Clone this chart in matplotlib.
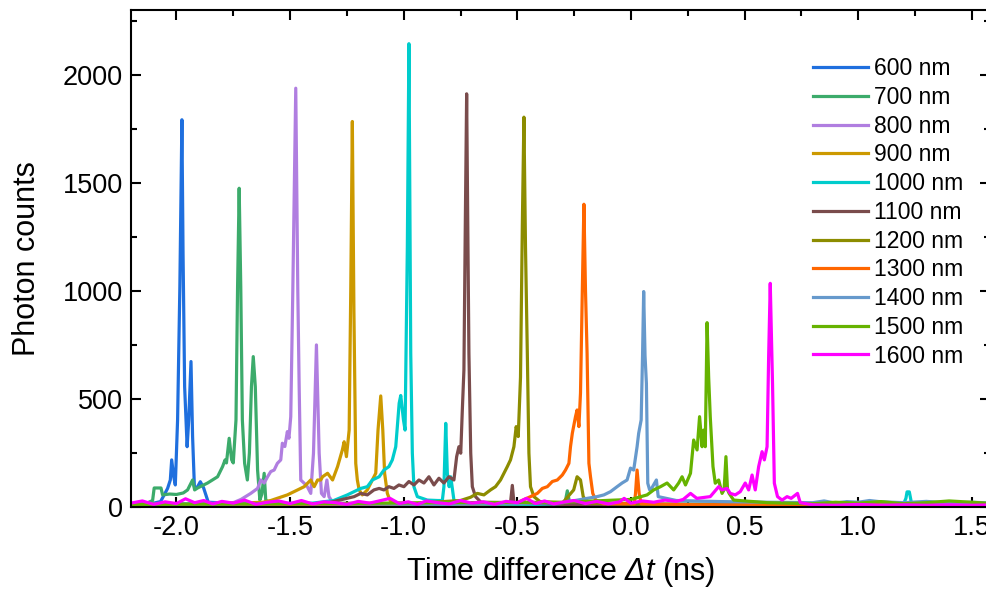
import matplotlib.pyplot as plt
from matplotlib.ticker import MultipleLocator

plt.rcParams['font.family'] = ['Liberation Sans', 'DejaVu Sans']
plt.rcParams['mathtext.fontset'] = 'custom'
plt.rcParams['mathtext.rm'] = 'Liberation Sans:italic'
plt.rcParams['mathtext.it'] = 'Liberation Sans:italic'
plt.rcParams['axes.unicode_minus'] = False

labels = ["600 nm", "700 nm", "800 nm", "900 nm", "1000 nm", "1100 nm",
          "1200 nm", "1300 nm", "1400 nm", "1500 nm", "1600 nm"]
colors = ["#1f6fde", "#3cab6b", "#b07ee0", "#cc9900", "#00cccc", "#7a4c4c",
          "#8c8c00", "#ff6600", "#6699cc", "#66b300", "#ff00ff"]

# time difference (ns) / photon counts
t_600 = [-2.20, -2.15, -2.10, -2.07, -2.054, -2.039, -2.027, -2.021, -2.012, -2.005,
         -1.995, -1.985, -1.976, -1.971, -1.964, -1.953, -1.946, -1.936, -1.929, -1.921,
         -1.909, -1.895, -1.881, -1.86, -1.7, -1.5, -1.2, -0.9, -0.6, -0.3,
         0.0, 0.3, 0.6, 0.9, 1.2, 1.6]
c_600 = [15, 20, 18, 25, 56, 86, 125, 218, 140, 102,
         403, 1020, 1792, 1176, 557, 279, 403, 673, 326, 94,
         90, 117, 90, 22, 15, 12, 14, 10, 12, 10,
         12, 10, 12, 10, 12, 10]

t_700 = [-2.20, -2.13, -2.105, -2.098, -2.068, -2.061, -2.03, -2.0, -1.97, -1.951,
         -1.929, -1.92, -1.907, -1.863, -1.819, -1.797, -1.786, -1.780, -1.768, -1.757,
         -1.750, -1.738, -1.731, -1.724, -1.717, -1.710, -1.700, -1.688, -1.679, -1.670,
         -1.662, -1.653, -1.643, -1.633, -1.624, -1.614, -1.607, -1.58, -1.3, -1.0,
         -0.7, -0.4, -0.29, -0.28, -0.27, -0.1, 0.2, 0.5, 0.8, 1.1, 1.4, 1.6]
c_700 = [15, 18, 30, 88, 88, 56, 60, 58, 65, 79,
         125, 79, 88, 111, 140, 187, 218, 204, 318, 218,
         204, 403, 1020, 1475, 1020, 403, 202, 125, 250, 557,
         696, 557, 171, 32, 60, 156, 32, 15, 12, 14,
         12, 14, 20, 75, 20, 12, 14, 12, 10, 12, 10, 12]

t_800 = [-2.20, -1.9, -1.75, -1.716, -1.673, -1.643, -1.629, -1.614, -1.599, -1.585,
         -1.570, -1.556, -1.541, -1.534, -1.523, -1.512, -1.505, -1.497, -1.488, -1.475,
         -1.466, -1.460, -1.453, -1.438, -1.424, -1.409, -1.397, -1.384, -1.372, -1.362,
         -1.350, -1.338, -1.329, -1.31, -1.0, -0.7, -0.4, -0.1, 0.2, 0.5,
         0.8, 1.1, 1.4, 1.6]
c_800 = [12, 15, 20, 35, 63, 86, 125, 111, 140, 164,
         171, 202, 218, 295, 280, 349, 318, 418, 1000, 1938,
         1000, 557, 125, 110, 94, 63, 249, 750, 249, 63,
         48, 125, 48, 18, 12, 14, 12, 10, 12, 10,
         12, 10, 12, 10]

t_900 = [-2.20, -1.8, -1.62, -1.585, -1.512, -1.467, -1.438, -1.409, -1.394, -1.379,
         -1.365, -1.357, -1.335, -1.313, -1.291, -1.270, -1.262, -1.252, -1.240, -1.233,
         -1.226, -1.219, -1.211, -1.204, -1.196, -1.182, -1.160, -1.138, -1.123, -1.113,
         -1.101, -1.092, -1.084, -1.072, -1.060, -1.04, -0.7, -0.4, -0.1, 0.2,
         0.5, 0.8, 1.1, 1.4, 1.6]
c_900 = [12, 15, 22, 30, 56, 79, 94, 125, 94, 125,
         125, 140, 156, 125, 187, 264, 302, 233, 356, 1000,
         1784, 900, 202, 125, 79, 56, 79, 125, 156, 356,
         514, 356, 156, 63, 30, 18, 12, 10, 12, 10,
         12, 10, 12, 10, 12]

t_1000 = [-2.20, -1.7, -1.4, -1.308, -1.248, -1.189, -1.160, -1.138, -1.108, -1.087,
          -1.065, -1.050, -1.035, -1.028, -1.020, -1.013, -1.006, -1.001, -0.994, -0.984,
          -0.977, -0.969, -0.962, -0.955, -0.940, -0.896, -0.85, -0.830, -0.823, -0.815,
          -0.808, -0.800, -0.793, -0.779, -0.75, -0.4, 0.0, 0.5, 1.0, 1.20,
          1.21, 1.215, 1.225, 1.235, 1.3, 1.6]
c_1000 = [12, 15, 18, 30, 56, 86, 94, 125, 140, 171,
          187, 218, 279, 372, 480, 516, 450, 403, 356, 1200,
          2144, 711, 249, 94, 48, 32, 30, 30, 94, 387,
          156, 94, 140, 32, 15, 12, 10, 12, 10, 15,
          40, 70, 70, 15, 10, 10]

t_1100 = [-2.20, -1.7, -1.35, -1.218, -1.189, -1.160, -1.131, -1.108, -1.087, -1.065,
          -1.043, -1.021, -0.999, -0.977, -0.955, -0.933, -0.911, -0.889, -0.867, -0.845,
          -0.823, -0.801, -0.779, -0.767, -0.757, -0.749, -0.742, -0.735, -0.729, -0.723,
          -0.718, -0.713, -0.705, -0.698, -0.684, -0.66, -0.53, -0.522, -0.515, -0.3,
          0.0, 0.4, 0.8, 1.2, 1.6]
c_1100 = [10, 12, 15, 48, 63, 56, 79, 86, 79, 94,
          86, 102, 94, 118, 102, 125, 111, 140, 102, 133,
          111, 140, 125, 233, 279, 249, 449, 634, 1300, 1912,
          1300, 711, 249, 94, 48, 22, 20, 100, 20, 12,
          10, 12, 10, 12, 10]

t_1200 = [-2.20, -1.6, -1.0, -0.75, -0.706, -0.676, -0.647, -0.618, -0.596, -0.574,
          -0.559, -0.544, -0.530, -0.515, -0.505, -0.496, -0.486, -0.478, -0.471, -0.464,
          -0.456, -0.449, -0.442, -0.427, -0.40, -0.30, -0.252, -0.237, -0.222, -0.210,
          -0.19, 0.1, 0.5, 0.9, 1.3, 1.6]
c_1200 = [10, 12, 14, 30, 45, 63, 56, 79, 94, 125,
          156, 187, 218, 279, 372, 326, 600, 1300, 1804, 1200,
          711, 249, 94, 48, 25, 20, 79, 140, 125, 48,
          18, 12, 10, 12, 10, 10]

t_1300 = [-2.20, -1.5, -0.8, -0.5, -0.442, -0.412, -0.390, -0.368, -0.346, -0.324,
          -0.302, -0.288, -0.273, -0.266, -0.258, -0.244, -0.237, -0.229, -0.222, -0.214,
          -0.207, -0.200, -0.193, -0.185, -0.178, -0.168, -0.155, -0.12, 0.015, 0.020,
          0.027, 0.036, 0.045, 0.3, 0.7, 1.1, 1.6]
c_1300 = [10, 12, 12, 20, 48, 63, 86, 94, 118, 125,
          148, 171, 202, 279, 341, 418, 449, 372, 528, 1000,
          1401, 1000, 711, 202, 140, 63, 32, 15, 15, 63,
          171, 63, 15, 10, 12, 10, 10]

t_1400 = [-2.20, -1.5, -0.8, -0.3, -0.149, -0.119, -0.090, -0.061, -0.039, -0.017,
          -0.002, 0.012, 0.027, 0.034, 0.045, 0.051, 0.056, 0.062, 0.068, 0.074,
          0.082, 0.093, 0.112, 0.120, 0.2, 0.4, 0.6, 0.8, 0.85, 0.9,
          0.95, 1.0, 1.05, 1.1, 1.2, 1.3, 1.4, 1.5, 1.6]
c_1400 = [12, 15, 12, 20, 48, 56, 71, 94, 111, 125,
          180, 171, 279, 341, 403, 700, 997, 700, 572, 110,
          80, 90, 125, 48, 30, 25, 22, 20, 28, 18,
          25, 22, 30, 24, 20, 26, 18, 22, 18]

t_1500 = [-2.20, -1.5, -0.8, -0.3, 0.0, 0.071, 0.100, 0.130, 0.159, 0.188,
          0.210, 0.225, 0.240, 0.262, 0.276, 0.291, 0.302, 0.313, 0.320, 0.327,
          0.335, 0.342, 0.349, 0.361, 0.371, 0.386, 0.401, 0.410, 0.418, 0.425,
          0.432, 0.452, 0.6, 0.8, 0.9, 1.0, 1.1, 1.2, 1.3, 1.4,
          1.5, 1.6]
c_1500 = [12, 15, 20, 22, 35, 56, 79, 94, 111, 79,
          111, 140, 102, 156, 310, 264, 418, 279, 356, 279,
          853, 600, 418, 187, 110, 125, 63, 80, 233, 80,
          63, 32, 20, 15, 22, 18, 25, 15, 20, 28,
          22, 15]

t_1600 = [-2.20, -2.15, -2.10, -2.05, -2.00, -1.96, -1.92, -1.88, -1.84, -1.80,
          -1.75, -1.70, -1.65, -1.60, -1.55, -1.50, -1.45, -1.40, -1.35, -1.30,
          -1.25, -1.20, -1.15, -1.10, -1.06, -1.02, -0.98, -0.94, -0.90, -0.85,
          -0.80, -0.75, -0.70, -0.65, -0.60, -0.55, -0.50, -0.46, -0.42, -0.38,
          -0.34, -0.30, -0.25, -0.20, -0.15, -0.10, -0.05, -0.03, 0.0, 0.05,
          0.10, 0.15, 0.20, 0.23, 0.262, 0.29, 0.349, 0.386, 0.400, 0.423,
          0.437, 0.459, 0.481, 0.503, 0.518, 0.533, 0.547, 0.562, 0.577, 0.587,
          0.599, 0.606, 0.613, 0.618, 0.623, 0.631, 0.645, 0.665, 0.687, 0.705,
          0.733, 0.745, 0.8, 0.9, 1.0, 1.1, 1.2, 1.3, 1.4, 1.5,
          1.6]
c_1600 = [18, 28, 12, 24, 16, 38, 20, 30, 14, 26,
          18, 32, 12, 22, 28, 16, 30, 14, 24, 20,
          12, 26, 18, 30, 40, 16, 24, 12, 28, 20,
          14, 30, 18, 24, 12, 26, 20, 40, 16, 28,
          14, 22, 30, 16, 26, 14, 24, 40, 18, 28,
          22, 32, 26, 35, 63, 40, 48, 94, 79, 86,
          63, 56, 71, 111, 79, 148, 79, 187, 256, 218,
          279, 700, 1035, 800, 572, 110, 48, 32, 48, 40,
          63, 20, 10, 8, 12, 8, 10, 8, 10, 8,
          10]

times = [t_600, t_700, t_800, t_900, t_1000, t_1100, t_1200, t_1300, t_1400, t_1500, t_1600]
counts = [c_600, c_700, c_800, c_900, c_1000, c_1100, c_1200, c_1300, c_1400, c_1500, c_1600]

fig = plt.figure(figsize=(9.87, 5.94), dpi=100)
ax = fig.add_axes([131 / 987, 1 - 507 / 594, (990 - 131) / 987, (507 - 10) / 594])

for t, c, col, lab in zip(times, counts, colors, labels):
    ax.plot(t, c, color=col, lw=2.3, label=lab)

ax.set_xlim(-2.2, 1.58)
ax.set_ylim(0, 2300)
ax.xaxis.set_major_locator(MultipleLocator(0.5))
ax.xaxis.set_minor_locator(MultipleLocator(0.25))
ax.yaxis.set_major_locator(MultipleLocator(500))
ax.yaxis.set_minor_locator(MultipleLocator(250))
ax.xaxis.set_major_formatter(plt.FormatStrFormatter('%.1f'))
ax.tick_params(which='both', direction='in', top=True, right=True, width=1.5,
               labelsize=19.5)
ax.tick_params(which='major', length=7, pad=6)
ax.tick_params(which='minor', length=4)
for s in ax.spines.values():
    s.set_linewidth(1.5)

ax.set_xlabel(r'Time difference $Δt$ (ns)', fontsize=22, labelpad=10)
ax.set_ylabel('Photon counts', fontsize=22, labelpad=15)

ax.legend(loc='upper left', bbox_to_anchor=(0.794, 0.905), frameon=False,
          fontsize=16.5, handlelength=2.4, handletextpad=0.25, labelspacing=0.25,
          borderpad=0, borderaxespad=0)

fig.savefig('out.png', dpi=100)
